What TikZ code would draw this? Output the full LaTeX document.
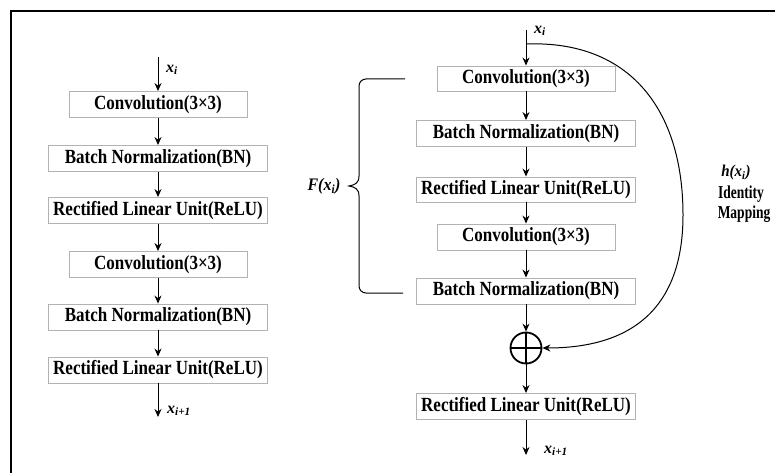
\documentclass[tikz,border=0pt]{standalone}
\usepackage{fontspec}
\usepackage{graphicx}
\setmainfont{Liberation Serif}
\usetikzlibrary{arrows.meta}
\newcommand{\tall}[2][1.18]{\scalebox{1}[#1]{#2}}
\begin{document}
\begin{tikzpicture}[x=1pt,y=-1pt,
 blk/.style={draw=gray!60, line width=0.9pt, fill=white, inner sep=0pt, minimum height=26pt, font=\fontsize{17}{20}\selectfont\bfseries},
 cw/.style={minimum width=178pt},
 ww/.style={minimum width=219pt},
 arr/.style={-{Stealth[length=8pt,width=7pt]}, line width=1pt},
 lab/.style={font=\fontsize{16}{18}\selectfont\bfseries\itshape, inner sep=0pt, anchor=west},
 side/.style={font=\fontsize{13.5}{15}\selectfont\bfseries, inner sep=0pt}]
\useasboundingbox (0,0) rectangle (775,473);
\draw[line width=2pt] (11,474) -- (11,11) -- (776,11);
% left column
\coordinate (lin) at (158,57);
\node[blk,cw] (l1) at (158,104.5) {\tall{Convolution(3×3)}};
\node[blk,ww] (l2) at (158,158.5) {\tall{Batch Normalization(BN)}};
\node[blk,ww] (l3) at (158,210.5) {\tall{Rectified Linear Unit(ReLU)}};
\node[blk,cw] (l4) at (158,264.5) {\tall{Convolution(3×3)}};
\node[blk,ww] (l5) at (158,317) {\tall{Batch Normalization(BN)}};
\node[blk,ww] (l6) at (158,370) {\tall{Rectified Linear Unit(ReLU)}};
\coordinate (lout) at (158,417);
\node[lab] (lxi) at (166,70) {x\textsubscript{i}};
\node[lab] (lxo) at (167,411) {x\textsubscript{i+1}};
\draw[arr] (lin) -- (l1);
\draw[arr] (l1) -- (l2);
\draw[arr] (l2) -- (l3);
\draw[arr] (l3) -- (l4);
\draw[arr] (l4) -- (l5);
\draw[arr] (l5) -- (l6);
\draw[arr] (l6) -- (lout);
% right column
\coordinate (rin) at (526,30);
\coordinate (rj) at (526,44);
\node[blk,cw,minimum height=25pt] (r1) at (526,78.5) {\tall{Convolution(3×3)}};
\node[blk,ww] (r2) at (526,133.5) {\tall{Batch Normalization(BN)}};
\node[blk,ww,minimum height=25pt] (r3) at (526,189.5) {\tall{Rectified Linear Unit(ReLU)}};
\node[blk,cw] (r4) at (526,237) {\tall{Convolution(3×3)}};
\node[blk,ww] (r5) at (526,291) {\tall{Batch Normalization(BN)}};
\node[circle,draw,line width=1.8pt,minimum size=31pt,inner sep=0pt] (plus) at (526,348) {};
\draw[line width=1.4pt] (plus.north) -- (plus.south) (plus.west) -- (plus.east);
\node[blk,ww] (r6) at (526,406.5) {\tall{Rectified Linear Unit(ReLU)}};
\coordinate (rout) at (526,455);
\node[lab] (rxi) at (534,31) {x\textsubscript{i}};
\node[lab] (rxo) at (544,451) {x\textsubscript{i+1}};
\draw[arr] (rin) -- (r1);
\draw[arr] (r1) -- (r2);
\draw[arr] (r2) -- (r3);
\draw[arr] (r3) -- (r4);
\draw[arr] (r4) -- (r5);
\draw[arr] (r5) -- (plus);
\draw[arr] (plus) -- (r6);
\draw[arr] (r6) -- (rout);
% identity mapping
\draw[arr] (rj) .. controls (630,40) and (683,110) .. (683,215)
  .. controls (683,310) and (630,348) .. (plus.east);
\node[side,font=\fontsize{15}{17}\selectfont\bfseries\itshape] (hx) at (736,173) {\tall[1.1]{h(x\textsubscript{i})}};
\node[side] (idt) at (741,194) {\tall[1.35]{Identity}};
\node[side] (map) at (744,214) {\tall[1.35]{Mapping}};
% brace
\draw[line width=1pt, rounded corners=7pt] (405,79) -- (359,79) -- (359,176);
\draw[line width=1pt] (359,176)
  .. controls (359,183) and (355,185) .. (349,186)
  .. controls (355,187) and (359,189) .. (359,196);
\draw[line width=1pt, rounded corners=7pt] (359,196) -- (359,293) -- (403,293);
\node[font=\fontsize{16}{18}\selectfont\bfseries\itshape, inner sep=0pt] (fx) at (324,186) {\tall[1.1]{F(x\textsubscript{i})}};
\end{tikzpicture}
\end{document}
